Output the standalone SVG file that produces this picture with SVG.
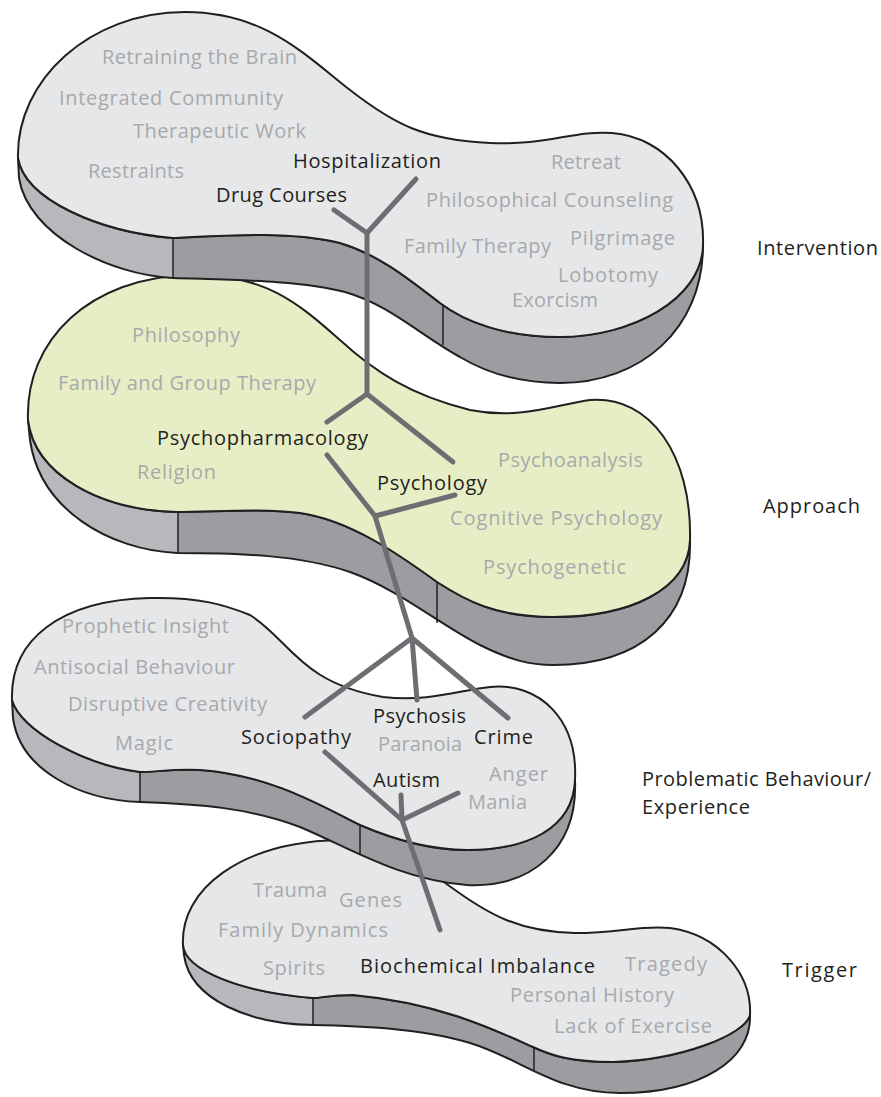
<svg xmlns="http://www.w3.org/2000/svg" width="881" height="1097" viewBox="0 0 881 1097">
<style>
.top{fill:#e6e7e8;stroke:#231f20;stroke-width:2;stroke-linejoin:round}
.green{fill:#e7eec6}
.sd{fill:#9c9da0}
.sl{fill:#b7b8bc}
.so{fill:none;stroke:#231f20;stroke-width:2;stroke-linejoin:round}
.dv{stroke:#231f20;stroke-width:1.5}
text{font-family:"Open Sans","Liberation Sans",sans-serif;font-size:20px;fill:#a7a9ac}
.k{fill:#231f20}
.conn{fill:none;stroke:#6d6e71;stroke-width:5;stroke-linecap:round;stroke-linejoin:round}
</style>
<defs>
<path id="s1" d="M18,158 L19,178 C28,235 110,275 173,278 C230,280 300,280 345,292 C390,305 420,335 460,357 C490,375 525,383 560,383 C640,383 703,330 703,245 C702,300 630,337 560,337 C505,337 465,322 440,303 C410,280 380,255 340,243 C290,230 215,236 173,238 C100,232 25,200 18,158 Z"/>
<path id="s2" d="M28,420 L30,440 C40,510 110,550 177,553 C240,553 300,555 350,572 C400,590 440,625 480,645 C510,660 530,665 553,665 C640,665 692,620 690,540 C688,590 630,617 553,617 C495,617 465,600 437,582 C400,555 350,520 300,513 C260,508 215,512 177,512 C100,510 35,475 28,420 Z"/>
<path id="s3" d="M12,700 L13,718 C20,770 80,800 140,802 C200,804 250,808 300,827 C350,848 400,880 467,885 C530,888 578,850 575,780 C573,830 525,850 467,850 C430,850 395,840 360,825 C320,805 270,775 200,770 C170,769 155,772 140,772 C85,765 20,730 12,700 Z"/>
<path id="s4" d="M183,945 L184,955 C190,1000 250,1024 313,1025 C360,1026 420,1028 470,1043 C520,1058 555,1093 620,1093 C700,1093 752,1060 750,1015 C745,1035 680,1060 613,1062 C570,1062 550,1055 533,1047 C495,1030 440,1003 353,995 C330,995 320,998 313,998 C240,992 185,970 183,945 Z"/>
<clipPath id="c1"><rect x="0" y="0" width="173" height="1097"/></clipPath>
<clipPath id="c2"><rect x="0" y="0" width="178" height="1097"/></clipPath>
<clipPath id="c3"><rect x="0" y="0" width="140" height="1097"/></clipPath>
<clipPath id="c4"><rect x="0" y="0" width="313" height="1097"/></clipPath>
</defs>
<rect width="881" height="1097" fill="#ffffff"/>

<g id="trigger">
<use href="#s4" class="sd"/>
<use href="#s4" class="sl" clip-path="url(#c4)"/>
<use href="#s4" class="so"/>
<path class="top" d="M183,945 C180,890 240,842 340,840 C390,839 420,865 455,890 C490,915 520,932 575,933 C620,933 640,925 670,928 C720,935 752,975 750,1015 C745,1035 680,1060 613,1062 C570,1062 550,1055 533,1047 C495,1030 440,1003 353,995 C330,995 320,998 313,998 C240,992 185,970 183,945 Z"/>
<line class="dv" x1="313" y1="998" x2="313" y2="1025"/>
<line class="dv" x1="534" y1="1047" x2="534" y2="1070"/>
<text x="253" y="897" textLength="74">Trauma</text>
<text x="339" y="907" textLength="63">Genes</text>
<text x="218" y="937" textLength="170">Family Dynamics</text>
<text x="263" y="975" textLength="62">Spirits</text>
<text class="k" x="360" y="973" textLength="235">Biochemical Imbalance</text>
<text x="625" y="971" textLength="82">Tragedy</text>
<text x="510" y="1002" textLength="164">Personal History</text>
<text x="554" y="1033" textLength="158">Lack of Exercise</text>
<text class="k" x="782" y="977" textLength="75">Trigger</text>
</g>

<g id="problematic">
<use href="#s3" class="sd"/>
<use href="#s3" class="sl" clip-path="url(#c3)"/>
<use href="#s3" class="so"/>
<path class="top" d="M12,700 C10,640 60,600 150,598 C200,597 225,605 250,615 C290,640 300,683 383,697 C430,702 460,690 490,687 C540,682 578,720 575,780 C573,830 525,850 467,850 C430,850 395,840 360,825 C320,805 270,775 200,770 C170,769 155,772 140,772 C85,765 20,730 12,700 Z"/>
<line class="dv" x1="140" y1="772" x2="140" y2="802"/>
<line class="dv" x1="360" y1="825" x2="360" y2="855"/>
<text x="62" y="633" textLength="167">Prophetic Insight</text>
<text x="34" y="674" textLength="201">Antisocial Behaviour</text>
<text x="68" y="711" textLength="199">Disruptive Creativity</text>
<text x="115" y="750" textLength="58">Magic</text>
<text class="k" x="241" y="744" textLength="110">Sociopathy</text>
<text class="k" x="373" y="723" textLength="93">Psychosis</text>
<text x="378" y="751" textLength="84">Paranoia</text>
<text class="k" x="474" y="744" textLength="59">Crime</text>
<text class="k" x="373" y="787" textLength="67">Autism</text>
<text x="489" y="781" textLength="59">Anger</text>
<text x="468" y="809" textLength="59">Mania</text>
<text class="k" x="642" y="786" textLength="229">Problematic Behaviour/</text>
<text class="k" x="642" y="814" textLength="108">Experience</text>
</g>

<g id="approach">
<use href="#s2" class="sd"/>
<use href="#s2" class="sl" clip-path="url(#c2)"/>
<use href="#s2" class="so"/>
<path class="top green" d="M28,420 C25,340 90,277 190,275 C265,273 300,305 340,340 C375,372 410,395 470,410 C520,420 555,405 590,400 C650,395 692,455 690,540 C688,590 630,617 553,617 C495,617 465,600 437,582 C400,555 350,520 300,513 C260,508 215,512 177,512 C100,510 35,475 28,420 Z"/>
<line class="dv" x1="178" y1="512" x2="178" y2="553"/>
<line class="dv" x1="437" y1="582" x2="437" y2="623"/>
<text x="132" y="342" textLength="108">Philosophy</text>
<text x="58" y="390" textLength="258">Family and Group Therapy</text>
<text class="k" x="157" y="445" textLength="211">Psychopharmacology</text>
<text x="137" y="479" textLength="79">Religion</text>
<text class="k" x="377" y="490" textLength="110">Psychology</text>
<text x="498" y="467" textLength="145">Psychoanalysis</text>
<text x="450" y="525" textLength="212">Cognitive Psychology</text>
<text x="483" y="574" textLength="143">Psychogenetic</text>
<text class="k" x="763" y="513" textLength="97">Approach</text>
</g>

<g id="intervention">
<use href="#s1" class="sd"/>
<use href="#s1" class="sl" clip-path="url(#c1)"/>
<use href="#s1" class="so"/>
<path class="top" d="M18,158 C16,80 90,12 185,12 C265,12 305,55 350,90 C395,125 425,140 490,143 C545,146 575,130 612,133 C665,137 705,185 703,245 C702,300 630,337 560,337 C505,337 465,322 440,303 C410,280 380,255 340,243 C290,230 215,236 173,238 C100,232 25,200 18,158 Z"/>
<line class="dv" x1="173" y1="238" x2="173" y2="278"/>
<line class="dv" x1="443" y1="305" x2="443" y2="345"/>
<text x="102" y="64" textLength="195">Retraining the Brain</text>
<text x="59" y="105" textLength="224">Integrated Community</text>
<text x="133" y="138" textLength="173">Therapeutic Work</text>
<text x="88" y="178" textLength="96">Restraints</text>
<text class="k" x="293" y="168" textLength="148">Hospitalization</text>
<text class="k" x="216" y="202" textLength="131">Drug Courses</text>
<text x="551" y="169" textLength="70">Retreat</text>
<text x="426" y="207" textLength="247">Philosophical Counseling</text>
<text x="404" y="253" textLength="147">Family Therapy</text>
<text x="570" y="245" textLength="105">Pilgrimage</text>
<text x="558" y="282" textLength="100">Lobotomy</text>
<text x="512" y="307" textLength="86">Exorcism</text>
<text class="k" x="757" y="255" textLength="121">Intervention</text>
</g>

<g id="connectors" class="conn">
<polyline points="416,179 367,233 334,210"/>
<polyline points="367,233 367,394"/>
<polyline points="327,422 367,394 453,462"/>
<polyline points="327,455 375,516 455,495"/>
<polyline points="375,516 412,638"/>
<polyline points="305,717 412,638 508,718"/>
<polyline points="412,638 417,700"/>
<polyline points="325,752 402,820 440,930"/>
<polyline points="401,795 402,820 458,793"/>
</g>
</svg>
